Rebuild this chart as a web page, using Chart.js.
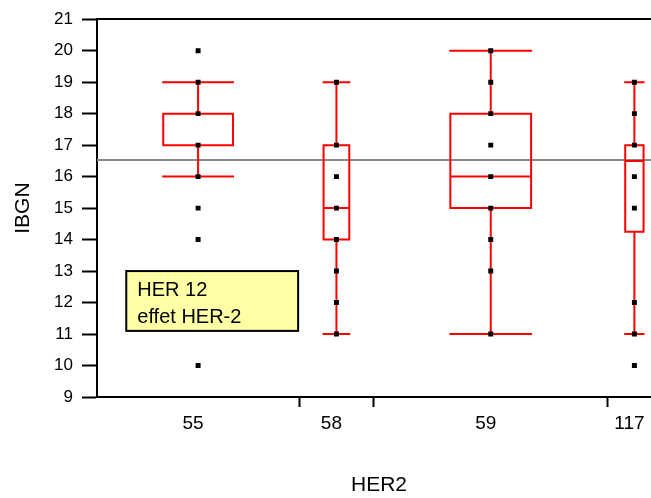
<!DOCTYPE html>
<html>
<head>
<meta charset="utf-8">
<script src="https://cdn.jsdelivr.net/npm/chart.js@4/dist/chart.umd.min.js"></script>
<style>
  html, body { margin: 0; padding: 0; background: #fff; overflow: hidden; }
</style>
</head>
<body>
<canvas id="boxChart" width="661" height="498"></canvas>
<script>
// groups along HER2, x width of each group is proportional to its size
const groups = ["55", "58", "59", "117"];
const groupSizes = [38, 14, 44, 10];

// box plot summaries
const whiskerLow = [16, 11, 11, 11];
const quart1 = [17, 14, 15, 14.25];
const medians = [17, 15, 16, 16.5];
const quart3 = [18, 17, 18, 17];
const whiskerHigh = [19, 19, 20, 19];

// observed IBGN values per group
const obs55 = [20, 19, 18, 17, 16, 15, 14, 10];
const obs58 = [19, 17, 16, 15, 14, 13, 12, 11];
const obs59 = [20, 19, 18, 17, 16, 15, 14, 13, 11];
const obs117 = [19, 18, 17, 16, 15, 12, 11, 10];
const observations = [obs55, obs58, obs59, obs117];

const grandMean = 16.53;
const yTicks = [9, 10, 11, 12, 13, 14, 15, 16, 17, 18, 19, 20, 21];
const noteLines = ["HER 12", "effet HER-2"];

const boxFrac = 0.345;

// group start/center positions on the x scale
const starts = [];
const centers = [];
let acc = 0;
groupSizes.forEach(n => { starts.push(acc); centers.push(acc + n / 2); acc += n; });
const xMax = acc;
const bounds = starts.slice(1);

// red box + whisker paths, broken with gaps
const redPath = [];
const gap = x => ({ x: x, y: null });
groups.forEach((g, i) => {
    const c = centers[i];
    const hw = groupSizes[i] * boxFrac / 2;
    const L = c - hw, R = c + hw;
    redPath.push({x: L, y: quart1[i]}, {x: R, y: quart1[i]}, {x: R, y: quart3[i]}, {x: L, y: quart3[i]}, {x: L, y: quart1[i]}, gap(L));
    redPath.push({x: L, y: medians[i]}, {x: R, y: medians[i]}, gap(R));
    redPath.push({x: c, y: quart3[i]}, {x: c, y: whiskerHigh[i]}, gap(c));
    redPath.push({x: c, y: quart1[i]}, {x: c, y: whiskerLow[i]}, gap(c));
    redPath.push({x: L, y: whiskerHigh[i]}, {x: R, y: whiskerHigh[i]}, gap(R));
    redPath.push({x: L, y: whiskerLow[i]}, {x: R, y: whiskerLow[i]}, gap(R));
});

const points = [];
observations.forEach((vals, i) => vals.forEach(v => points.push({x: centers[i], y: v})));

const font = "'Liberation Sans', Arial, sans-serif";

const notePlugin = {
    id: "note",
    afterDatasetsDraw(chart) {
        const {ctx, scales: {x, y}} = chart;
        const x0 = x.getPixelForValue(5.5), x1 = x.getPixelForValue(37.8);
        const y0 = y.getPixelForValue(13), y1 = y.getPixelForValue(11.1);
        ctx.save();
        ctx.fillStyle = "#ffffa6";
        ctx.fillRect(x0, y0, x1 - x0, y1 - y0);
        ctx.strokeStyle = "#000";
        ctx.lineWidth = 2;
        ctx.strokeRect(x0, y0, x1 - x0, y1 - y0);
        ctx.fillStyle = "#000";
        ctx.font = "20px " + font;
        ctx.textBaseline = "alphabetic";
        ctx.fillText(noteLines[0], x0 + 11, y0 + 25);
        ctx.fillText(noteLines[1], x0 + 11, y0 + 52);
        ctx.restore();
    }
};

const noPad = s => { s.paddingLeft = 0; s.paddingRight = 0; };

new Chart("boxChart", {
    type: "scatter",
    data: {
        datasets: [{
            data: points,
            pointStyle: "rect",
            pointRadius: 3.5,
            backgroundColor: "#000",
            borderWidth: 0
        }, {
            data: redPath,
            showLine: true,
            pointRadius: 0,
            borderColor: "#ff0000",
            borderWidth: 2,
            borderCapStyle: "square",
            borderJoinStyle: "miter",
            spanGaps: false
        }, {
            data: [{x: 0, y: grandMean}, {x: xMax, y: grandMean}],
            showLine: true,
            pointRadius: 0,
            borderColor: "#888888",
            borderWidth: 2
        }]
    },
    options: {
        responsive: false,
        animation: false,
        layout: { autoPadding: false, padding: { top: 18, right: 0, left: 0, bottom: 0 } },
        plugins: { legend: { display: false }, tooltip: { enabled: false } },
        scales: {
            x: {
                type: "linear",
                position: "bottom",
                min: 0,
                max: xMax,
                afterBuildTicks: s => { s.ticks = bounds.concat(centers).sort((a, b) => a - b).map(v => ({value: v})); },
                afterFit: s => { s.height = 101; noPad(s); },
                ticks: {
                    callback: v => { const k = centers.indexOf(v); return k >= 0 ? groups[k] : ""; },
                    font: { family: font, size: 19 },
                    color: "#000",
                    padding: 5,
                    labelOffset: -5,
                    maxRotation: 0,
                    autoSkip: false
                },
                grid: {
                    drawOnChartArea: false,
                    tickLength: 10,
                    tickWidth: 2,
                    tickColor: c => (c.tick && bounds.includes(c.tick.value)) ? "#000" : "rgba(0,0,0,0)"
                },
                border: { color: "#000", width: 2 },
                title: {
                    display: true,
                    text: "HER2",
                    font: { family: font, size: 21 },
                    color: "#000",
                    padding: { top: 0, bottom: 0 }
                }
            },
            xTop: {
                type: "linear",
                position: "top",
                min: 0,
                max: xMax,
                afterFit: s => { s.height = 0; noPad(s); },
                ticks: { display: false },
                grid: { display: false, drawTicks: false },
                border: { color: "#000", width: 2 }
            },
            y: {
                min: 9,
                max: 21,
                afterBuildTicks: s => { s.ticks = yTicks.map(v => ({value: v})); },
                afterFit: s => { s.width = 97; },
                ticks: {
                    font: { family: font, size: 17 },
                    color: "#000",
                    padding: 9
                },
                grid: {
                    drawOnChartArea: false,
                    tickLength: 15,
                    tickWidth: 2,
                    tickColor: "#000"
                },
                border: { color: "#000", width: 2 },
                title: {
                    display: true,
                    text: "IBGN",
                    font: { family: font, size: 21 },
                    color: "#000",
                    padding: { top: 11, bottom: 0 }
                }
            }
        }
    },
    plugins: [notePlugin]
});
</script>
</body>
</html>
